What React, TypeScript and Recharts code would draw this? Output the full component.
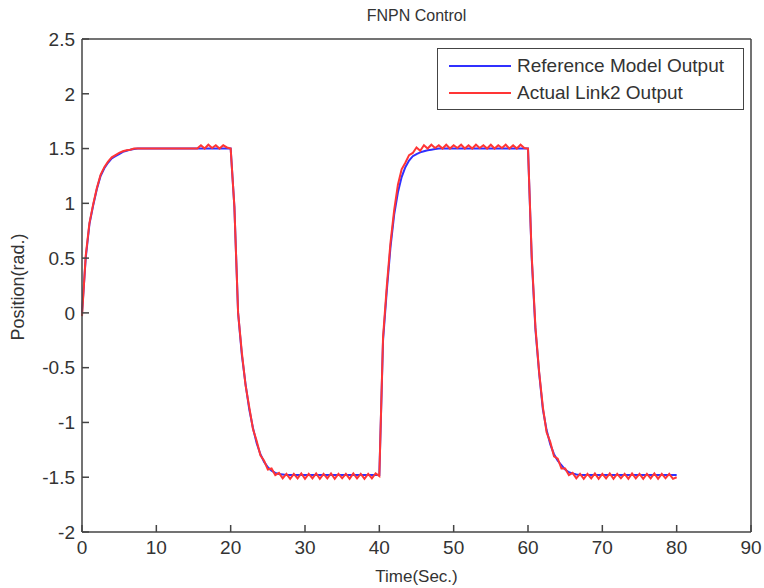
import React from "react";
import { Label, Legend, Line, LineChart, XAxis, YAxis } from "recharts";

// sample times (s)
const time = [
  0, 0.5, 1, 1.5, 2, 2.5, 3, 3.5, 4, 4.5, 5, 5.5, 6, 6.5, 7, 7.5, 8, 8.5, 9, 9.5,
  10, 10.5, 11, 11.5, 12, 12.5, 13, 13.5, 14, 14.5, 15, 15.5, 16, 16.5, 17, 17.5, 18, 18.5, 19, 19.5,
  20, 20.5, 21, 21.5, 22, 22.5, 23, 23.5, 24, 24.5, 25, 25.5, 26, 26.5, 27, 27.5, 28, 28.5, 29, 29.5,
  30, 30.5, 31, 31.5, 32, 32.5, 33, 33.5, 34, 34.5, 35, 35.5, 36, 36.5, 37, 37.5, 38, 38.5, 39, 39.5,
  40, 40.5, 41, 41.5, 42, 42.5, 43, 43.5, 44, 44.5, 45, 45.5, 46, 46.5, 47, 47.5, 48, 48.5, 49, 49.5,
  50, 50.5, 51, 51.5, 52, 52.5, 53, 53.5, 54, 54.5, 55, 55.5, 56, 56.5, 57, 57.5, 58, 58.5, 59, 59.5,
  60, 60.5, 61, 61.5, 62, 62.5, 63, 63.5, 64, 64.5, 65, 65.5, 66, 66.5, 67, 67.5, 68, 68.5, 69, 69.5,
  70, 70.5, 71, 71.5, 72, 72.5, 73, 73.5, 74, 74.5, 75, 75.5, 76, 76.5, 77, 77.5, 78, 78.5, 79, 79.5,
  80,
];

// Reference Model Output (rad.)
const refOut = [
  0, 0.5, 0.81, 0.98, 1.13, 1.25, 1.32, 1.37, 1.41, 1.43, 1.45, 1.47, 1.48, 1.49, 1.495, 1.5, 1.5, 1.5, 1.5, 1.5,
  1.5, 1.5, 1.5, 1.5, 1.5, 1.5, 1.5, 1.5, 1.5, 1.5, 1.5, 1.5, 1.5, 1.5, 1.5, 1.5, 1.5, 1.5, 1.5, 1.5,
  1.5, 0.97, 0, -0.38, -0.65, -0.88, -1.05, -1.19, -1.29, -1.36, -1.41, -1.44, -1.46, -1.47, -1.475, -1.48, -1.48, -1.48, -1.48, -1.48,
  -1.48, -1.48, -1.48, -1.48, -1.48, -1.48, -1.48, -1.48, -1.48, -1.48, -1.48, -1.48, -1.48, -1.48, -1.48, -1.48, -1.48, -1.48, -1.48, -1.48,
  -1.48, -0.25, 0.2, 0.6, 0.9, 1.1, 1.24, 1.33, 1.39, 1.43, 1.45, 1.465, 1.475, 1.485, 1.49, 1.495, 1.5, 1.5, 1.5, 1.5,
  1.5, 1.5, 1.5, 1.5, 1.5, 1.5, 1.5, 1.5, 1.5, 1.5, 1.5, 1.5, 1.5, 1.5, 1.5, 1.5, 1.5, 1.5, 1.5, 1.5,
  1.5, 0.5, -0.15, -0.55, -0.88, -1.07, -1.2, -1.29, -1.35, -1.39, -1.43, -1.455, -1.465, -1.475, -1.48, -1.48, -1.48, -1.48, -1.48, -1.48,
  -1.48, -1.48, -1.48, -1.48, -1.48, -1.48, -1.48, -1.48, -1.48, -1.48, -1.48, -1.48, -1.48, -1.48, -1.48, -1.48, -1.48, -1.48, -1.48, -1.48,
  -1.48,
];

// Actual Link2 Output (rad.)
const actOut = [
  -0.03, 0.52, 0.82, 0.99, 1.14, 1.26, 1.33, 1.38, 1.42, 1.44, 1.46, 1.475, 1.485, 1.49, 1.5, 1.5, 1.5, 1.5, 1.5, 1.5,
  1.5, 1.5, 1.5, 1.5, 1.5, 1.5, 1.5, 1.5, 1.5, 1.5, 1.5, 1.5, 1.53, 1.5, 1.535, 1.505, 1.53, 1.5, 1.53, 1.51,
  1.5, 0.97, 0, -0.36, -0.66, -0.86, -1.06, -1.17, -1.3, -1.35, -1.43, -1.42, -1.48, -1.46, -1.51, -1.47, -1.515, -1.47, -1.51, -1.465,
  -1.515, -1.47, -1.51, -1.465, -1.515, -1.47, -1.51, -1.465, -1.515, -1.47, -1.51, -1.47, -1.515, -1.465, -1.51, -1.47, -1.515, -1.47, -1.51, -1.465,
  -1.49, -0.22, 0.24, 0.64, 0.94, 1.17, 1.31, 1.37, 1.44, 1.46, 1.51, 1.48, 1.53, 1.5, 1.535, 1.505, 1.53, 1.5, 1.535, 1.5,
  1.53, 1.505, 1.535, 1.5, 1.53, 1.5, 1.535, 1.505, 1.53, 1.5, 1.535, 1.5, 1.53, 1.505, 1.535, 1.5, 1.53, 1.5, 1.535, 1.505,
  1.5, 0.52, -0.13, -0.54, -0.86, -1.09, -1.18, -1.31, -1.33, -1.42, -1.42, -1.48, -1.46, -1.51, -1.47, -1.515, -1.47, -1.51, -1.465, -1.515,
  -1.47, -1.51, -1.465, -1.515, -1.47, -1.51, -1.47, -1.515, -1.465, -1.51, -1.47, -1.515, -1.47, -1.51, -1.465, -1.515, -1.47, -1.51, -1.47, -1.515,
  -1.5,
];

const xTicks = [0, 10, 20, 30, 40, 50, 60, 70, 80, 90];
const yTicks = [-2, -1.5, -1, -0.5, 0, 0.5, 1, 1.5, 2, 2.5];
const legendOrder = ["Reference Model Output", "Actual Link2 Output"];

const data = time.map((t, i) => ({ t, ref: refOut[i], act: actOut[i] }));

const FONT = "'Liberation Sans', Arial, Helvetica, sans-serif";
const AXIS = "#444";
const TXT = "#333";

function LegendBox({ payload }: any) {
  const items = [...(payload || [])].sort(
    (a: any, b: any) => legendOrder.indexOf(a.value) - legendOrder.indexOf(b.value)
  );
  return (
    <div
      style={{
        width: 307,
        height: 62,
        boxSizing: "border-box",
        border: `1.5px solid ${AXIS}`,
        background: "#fff",
        fontFamily: FONT,
        fontSize: 19,
        color: TXT,
        paddingTop: 3,
      }}
    >
      {items.map((p: any) => (
        <div key={p.value} style={{ display: "flex", alignItems: "center", height: 27 }}>
          <svg width={79} height={10} style={{ flex: "none" }}>
            <line x1={11} x2={73} y1={5} y2={5} stroke={p.color} strokeWidth={2} />
          </svg>
          <span style={{ lineHeight: "27px", whiteSpace: "nowrap" }}>{p.value}</span>
        </div>
      ))}
    </div>
  );
}

export default function App() {
  const tickStyle = { fill: TXT, fontSize: 19, fontFamily: FONT };
  return (
    <div style={{ position: "absolute", left: 0, top: 0, width: 764, height: 588, background: "#fff" }}>
      <LineChart width={764} height={588} data={data} margin={{ top: 38, right: 12, bottom: 0, left: 0 }}>
        <XAxis
          xAxisId="b"
          dataKey="t"
          type="number"
          domain={[0, 90]}
          ticks={xTicks}
          interval={0}
          height={56}
          tickSize={-7}
          tickMargin={16}
          axisLine={{ stroke: AXIS, strokeWidth: 1.5 }}
          tickLine={{ stroke: AXIS, strokeWidth: 1.5 }}
          tick={tickStyle}
        >
          <Label
            value="Time(Sec.)"
            position="insideBottom"
            offset={6}
            style={{ fill: TXT, fontSize: 17, fontFamily: FONT }}
          />
        </XAxis>
        <XAxis
          xAxisId="top"
          orientation="top"
          dataKey="t"
          type="number"
          domain={[0, 90]}
          ticks={xTicks}
          interval={0}
          height={1}
          tickSize={-7}
          tick={false}
          axisLine={{ stroke: AXIS, strokeWidth: 1.5 }}
          tickLine={{ stroke: AXIS, strokeWidth: 1.5 }}
        >
          <Label
            value="FNPN Control"
            position="top"
            offset={17}
            style={{ fill: TXT, fontSize: 16, fontFamily: FONT }}
          />
        </XAxis>
        <YAxis
          yAxisId="l"
          type="number"
          domain={[-2, 2.5]}
          ticks={yTicks}
          interval={0}
          width={82}
          tickSize={-7}
          tickMargin={14}
          axisLine={{ stroke: AXIS, strokeWidth: 1.5 }}
          tickLine={{ stroke: AXIS, strokeWidth: 1.5 }}
          tick={tickStyle}
        >
          <Label
            content={() => (
              <text
                x={24}
                y={287}
                transform="rotate(-90 24 287)"
                textAnchor="middle"
                fill={TXT}
                fontSize={18}
                fontFamily={FONT}
              >
                Position(rad.)
              </text>
            )}
          />
        </YAxis>
        <YAxis
          yAxisId="r"
          orientation="right"
          type="number"
          domain={[-2, 2.5]}
          ticks={yTicks}
          interval={0}
          width={1}
          tickSize={-7}
          tick={false}
          axisLine={{ stroke: AXIS, strokeWidth: 1.5 }}
          tickLine={{ stroke: AXIS, strokeWidth: 1.5 }}
        />
        <Line
          xAxisId="b"
          yAxisId="l"
          type="linear"
          dataKey="ref"
          name="Reference Model Output"
          stroke="#3030ff"
          strokeWidth={2}
          dot={false}
          isAnimationActive={false}
        />
        <Line
          xAxisId="b"
          yAxisId="l"
          type="linear"
          dataKey="act"
          name="Actual Link2 Output"
          stroke="#ff3535"
          strokeWidth={2}
          dot={false}
          isAnimationActive={false}
        />
        <Legend
          layout="vertical"
          align="center"
          verticalAlign="middle"
          content={<LegendBox />}
          wrapperStyle={{ left: 437, top: 48, width: 307, height: 62 }}
        />
      </LineChart>
    </div>
  );
}
